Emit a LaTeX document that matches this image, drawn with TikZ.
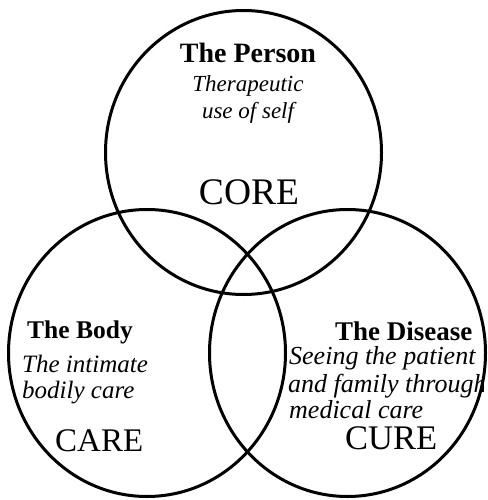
\documentclass[tikz,border=0pt]{standalone}
\usepackage{fontspec}
\setmainfont{Liberation Serif}
\begin{document}
\begin{tikzpicture}[x=1pt,y=-1pt,
  ring/.style={draw=black,line width=3pt},
  head/.style={inner sep=0pt,font=\fontsize{27}{30}\selectfont\bfseries},
  desc/.style={inner sep=0pt,font=\fontsize{24}{27}\selectfont\itshape},
  big/.style={inner sep=0pt,font=\fontsize{35}{40}\selectfont}]
\useasboundingbox (0,0) rectangle (487,500);
\draw[ring] (243.5,152.5) ellipse [x radius=138, y radius=142];
\draw[ring] (147,353) ellipse [x radius=138.5, y radius=143.5];
\draw[ring] (347.5,353) ellipse [x radius=138, y radius=143.5];
% top
\node[head,anchor=base,font=\fontsize{28}{30}\selectfont\bfseries] (person) at (248,63) {The Person};
\node[desc,anchor=base,font=\fontsize{23}{26}\selectfont\itshape] (ther) at (248,92) {Therapeutic};
\node[desc,anchor=base,font=\fontsize{23}{26}\selectfont\itshape] (self) at (248,118) {use of self};
\node[big,anchor=base,font=\fontsize{37.5}{40}\selectfont] (core) at (249,204) {CORE};
% left
\node[head,anchor=base west,font=\fontsize{25.5}{30}\selectfont\bfseries] (body) at (27,338) {The Body};
\node[desc,anchor=base west,font=\fontsize{25}{27}\selectfont\itshape] (intim) at (22,372) {The intimate};
\node[desc,anchor=base west,font=\fontsize{25}{27}\selectfont\itshape] (bodily) at (22,398) {bodily care};
\node[big,anchor=base west,font=\fontsize{33}{40}\selectfont] (care) at (55,451) {CARE};
% right
\node[head,anchor=base west] (disease) at (335,340) {The Disease};
\begin{scope}
\clip (280,300) rectangle (483,430);
\node[desc,anchor=base west,font=\fontsize{26}{27}\selectfont\itshape] (seeing) at (289,364) {Seeing the patient};
\node[desc,anchor=base west,font=\fontsize{26}{27}\selectfont\itshape] (family) at (288,392) {and family through};
\node[desc,anchor=base west,font=\fontsize{26}{27}\selectfont\itshape] (medical) at (289,418) {medical care};
\end{scope}
\node[big,anchor=base west,font=\fontsize{34.5}{40}\selectfont] (cure) at (345,449) {CURE};
\end{tikzpicture}
\end{document}
